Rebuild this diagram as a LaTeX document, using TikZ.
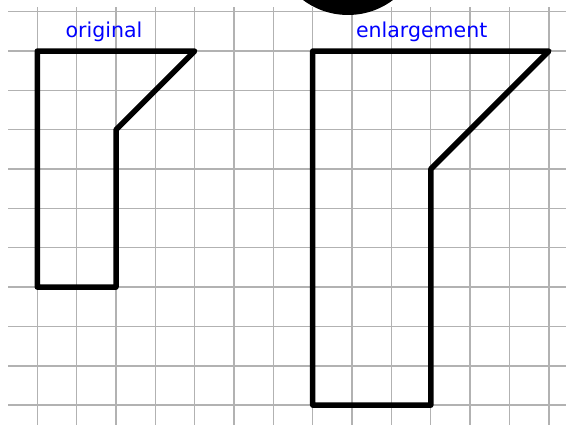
\documentclass[tikz,border=0pt]{standalone}
\usepackage{fontspec}
\setmainfont{DejaVu Sans}
\usepackage{tikz}
\usetikzlibrary{positioning}
\definecolor{gridgray}{RGB}{178,178,178}
\tikzstyle{gridline} = [draw=gridgray, line width=1.4pt]
\tikzstyle{outline} = [draw=black, line width=5.5pt, line join=round]
\tikzstyle{headtext} = [anchor=base, text=blue, font=\fontsize{20.5}{24}\selectfont, inner sep=0pt]

\begin{document}
\begin{tikzpicture}[x=39.35pt, y=39.35pt]

\useasboundingbox (-0.948,-10.503) rectangle (13.436,0.297);
\clip (-0.948,-10.503) rectangle (13.436,0.297);

\draw [gridline, step=1] (-0.737,-10.503) grid (13.436,0.112);

\fill [black] (7.896,1.822) circle (1.906);

\node (orig) [headtext] at (1.695,-0.651) {original};
\node (enl) [headtext] at (9.769,-0.651) {enlargement};

\draw [outline] (0,-1) -- (4,-1) -- (2,-3) -- (2,-7) -- (0,-7) -- cycle;

\draw [outline] (7,-1) -- (13,-1) -- (10,-4) -- (10,-10) -- (7,-10) -- cycle;

\end{tikzpicture}
\end{document}
